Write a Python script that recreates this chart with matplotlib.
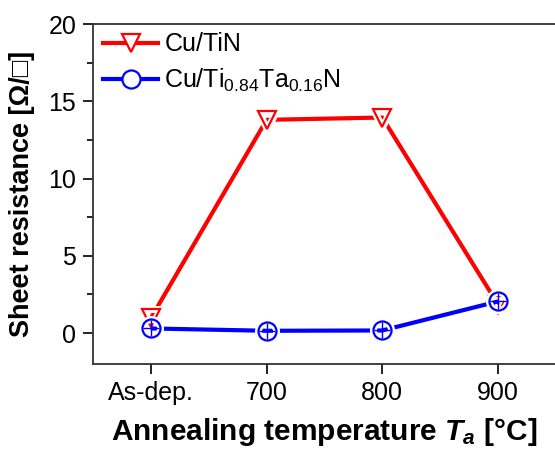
import matplotlib
matplotlib.use("Agg")
import matplotlib.pyplot as plt
from matplotlib.ticker import MultipleLocator
from matplotlib.lines import Line2D

plt.rcParams['font.family'] = ['Liberation Sans', 'DejaVu Sans']
plt.rcParams['mathtext.fontset'] = 'custom'
plt.rcParams['mathtext.rm'] = 'Liberation Sans'
plt.rcParams['mathtext.it'] = 'Liberation Sans:italic:bold'
plt.rcParams['mathtext.bf'] = 'Liberation Sans:bold'

categories = ['As-dep.', '700', '800', '900']
tin = [0.97, 13.8, 13.95, 1.85]
tita = [0.3, 0.15, 0.17, 2.05]

fig = plt.figure(figsize=(5.55, 4.49), dpi=100)
ax = fig.add_axes([0.1676, 0.1893, 0.834, 0.7572])
x = list(range(len(categories)))

def draw(vals, color, marker, z):
    ax.plot(x, vals, '-', color=color, lw=3, zorder=z, solid_capstyle='butt')
    ax.plot(x, vals, linestyle='none', marker=marker, ms=13, mfc='none',
            mec='white', mew=5, zorder=z + 0.1)
    ax.plot(x, vals, linestyle='none', marker=marker, ms=13, mfc='none',
            mec=color, mew=1.6, zorder=z + 0.2)

draw(tin, 'red', 'v', 3)
draw(tita, 'blue', 'o', 4)
ax.plot(x, tita, linestyle='none', marker='+', ms=12, mec='blue', mew=1.0, zorder=4.3)

ax.set_xlim(-0.5, 3.5)
ax.set_ylim(-2, 20)
ax.set_xticks(x)
ax.set_xticklabels(categories)
ax.yaxis.set_major_locator(MultipleLocator(5))
ax.yaxis.set_minor_locator(MultipleLocator(2.5))
ax.tick_params(axis='both', which='major', direction='out', length=7, width=1.2,
               labelsize=18, colors='black', pad=5)
ax.tick_params(axis='y', which='minor', direction='out', length=4, width=1.2)
ax.tick_params(top=False, right=False)
for s in ax.spines.values():
    s.set_linewidth(1.3)
    s.set_color('#333333')

ax.set_ylabel('Sheet resistance [Ω/□]', fontsize=19.5, fontweight='bold', labelpad=10)
ax.set_xlabel('Annealing temperature $T_a$ [°C]', fontsize=21.5, fontweight='bold', labelpad=8)

handles = [
    Line2D([], [], color='red', lw=3, marker='v', ms=13, mfc='white', mec='red', mew=1.6),
    Line2D([], [], color='blue', lw=3, marker='o', ms=13, mfc='white', mec='blue', mew=1.6),
]
ax.legend(handles, ['Cu/TiN', 'Cu/Ti$_{0.84}$Ta$_{0.16}$N'], loc='upper left',
          frameon=False, fontsize=18, handlelength=2.2, handletextpad=0.25,
          borderaxespad=0.0, labelspacing=0.4, bbox_to_anchor=(0.0, 1.005))

fig.savefig('out.png', dpi=100)
